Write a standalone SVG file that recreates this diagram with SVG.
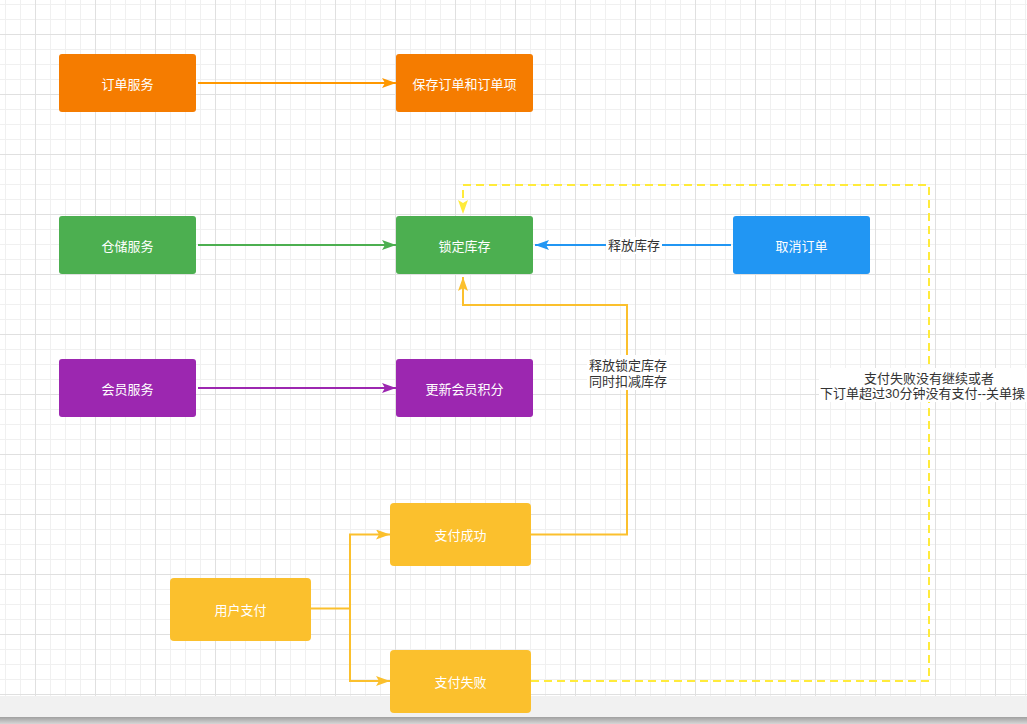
<svg xmlns="http://www.w3.org/2000/svg" width="1027" height="724" viewBox="0 0 1027 724">
<style>
.node text{font-family:"Noto Sans CJK SC","Liberation Sans",sans-serif;font-size:13px;fill:#ffffff;text-anchor:middle;dominant-baseline:central}
.lbl{font-family:"Liberation Sans","Noto Sans CJK SC",sans-serif;font-size:13px;fill:#333333}
.e{fill:none;stroke-width:2}
</style>
<defs>
<pattern id="grid" patternUnits="userSpaceOnUse" x="35" y="34" width="60" height="60">
<path d="M15.5,0V60M30.5,0V60M45.5,0V60M0,15.5H60M0,30.5H60M0,45.5H60" stroke="#f0f0f0" stroke-width="1" fill="none"/>
<path d="M0.5,0V60M0,0.5H60" stroke="#e0e0e0" stroke-width="1" fill="none"/>
</pattern>
<linearGradient id="shadow" x1="0" y1="0" x2="0" y2="1">
<stop offset="0" stop-color="#a0a0a0"/>
<stop offset="1" stop-color="#d6d6d6"/>
</linearGradient>
<marker id="aO" markerUnits="userSpaceOnUse" viewBox="0 0 14 10" refX="14" refY="5" markerWidth="14" markerHeight="10" orient="auto"><path d="M0,0L14,5L0,10L3,5Z" fill="#FF9800"/></marker>
<marker id="aG" markerUnits="userSpaceOnUse" viewBox="0 0 14 10" refX="14" refY="5" markerWidth="14" markerHeight="10" orient="auto"><path d="M0,0L14,5L0,10L3,5Z" fill="#4CAF50"/></marker>
<marker id="aB" markerUnits="userSpaceOnUse" viewBox="0 0 14 10" refX="14" refY="5" markerWidth="14" markerHeight="10" orient="auto"><path d="M0,0L14,5L0,10L3,5Z" fill="#2196F3"/></marker>
<marker id="aP" markerUnits="userSpaceOnUse" viewBox="0 0 14 10" refX="14" refY="5" markerWidth="14" markerHeight="10" orient="auto"><path d="M0,0L14,5L0,10L3,5Z" fill="#9C27B0"/></marker>
<marker id="aY" markerUnits="userSpaceOnUse" viewBox="0 0 14 10" refX="14" refY="5" markerWidth="14" markerHeight="10" orient="auto"><path d="M0,0L14,5L0,10L3,5Z" fill="#FBC02D"/></marker>
<marker id="aL" markerUnits="userSpaceOnUse" viewBox="0 0 14 10" refX="14" refY="5" markerWidth="14" markerHeight="10" orient="auto"><path d="M0,0L14,5L0,10L3,5Z" fill="#FFEB3B"/></marker>
</defs>
<rect x="0" y="0" width="1027" height="724" fill="#ffffff"/>
<rect x="0" y="0" width="1027" height="696" fill="url(#grid)"/>
<rect x="0" y="696" width="1027" height="21" fill="#f1f1f1"/>
<rect x="0" y="717" width="1027" height="7" fill="url(#shadow)"/>

<g id="connectors">
<path class="e" d="M198,83H396" stroke="#FF9800" marker-end="url(#aO)"/>
<path class="e" d="M198,245H396" stroke="#4CAF50" marker-end="url(#aG)"/>
<path class="e" d="M731,245H535" stroke="#2196F3" marker-end="url(#aB)"/>
<path class="e" d="M198,388H396" stroke="#9C27B0" marker-end="url(#aP)"/>
<path class="e" d="M531,534.5H627V305H463V277" stroke="#FBC02D" marker-end="url(#aY)"/>
<path class="e" d="M311,608.5H350V534.5H390" stroke="#FBC02D" marker-end="url(#aY)"/>
<path class="e" d="M350,608.5V681H390" stroke="#FBC02D" marker-end="url(#aY)"/>
<path class="e" d="M531,681H929V185H463V214" stroke="#FFEB3B" stroke-dasharray="8 5" marker-end="url(#aL)"/>
<rect x="606" y="237" width="56" height="17" fill="#ffffff"/>
<text class="lbl" x="634" y="245" text-anchor="middle" dominant-baseline="central">释放库存</text>
<rect x="587" y="355" width="82" height="35" fill="#ffffff"/>
<text class="lbl" x="628" y="365" text-anchor="middle" dominant-baseline="central">释放锁定库存</text>
<text class="lbl" x="628" y="381" text-anchor="middle" dominant-baseline="central">同时扣减库存</text>
<rect x="819" y="368" width="208" height="34" fill="#ffffff"/>
<text class="lbl" x="929" y="378" text-anchor="middle" dominant-baseline="central">支付失败没有继续或者</text>
<text class="lbl" x="820" y="393" dominant-baseline="central">下订单超过30分钟没有支付--关单操</text>
</g>

<g id="n-order" class="node"><rect x="59" y="54" width="137" height="58" rx="3" fill="#F57C00"/><text x="127.5" y="83">订单服务</text></g>
<g id="n-save" class="node"><rect x="396" y="54" width="137" height="58" rx="3" fill="#F57C00"/><text x="464.5" y="83">保存订单和订单项</text></g>
<g id="n-stock" class="node"><rect x="59" y="216" width="137" height="58" rx="3" fill="#4CAF50"/><text x="127.5" y="245">仓储服务</text></g>
<g id="n-lock" class="node"><rect x="396" y="216" width="137" height="58" rx="3" fill="#4CAF50"/><text x="464.5" y="245">锁定库存</text></g>
<g id="n-cancel" class="node"><rect x="733" y="216" width="137" height="58" rx="3" fill="#2196F3"/><text x="801.5" y="245">取消订单</text></g>
<g id="n-member" class="node"><rect x="59" y="359" width="137" height="58" rx="3" fill="#9C27B0"/><text x="127.5" y="388">会员服务</text></g>
<g id="n-points" class="node"><rect x="396" y="359" width="137" height="58" rx="3" fill="#9C27B0"/><text x="464.5" y="388">更新会员积分</text></g>
<g id="n-paysuccess" class="node"><rect x="390" y="503" width="141" height="63" rx="4" fill="#FBC02D"/><text x="460.5" y="534.5">支付成功</text></g>
<g id="n-userpay" class="node"><rect x="170" y="578" width="141" height="63" rx="4" fill="#FBC02D"/><text x="240.5" y="609">用户支付</text></g>
<g id="n-payfail" class="node"><rect x="390" y="650" width="141" height="63" rx="4" fill="#FBC02D"/><text x="460.5" y="681">支付失败</text></g>
</svg>
